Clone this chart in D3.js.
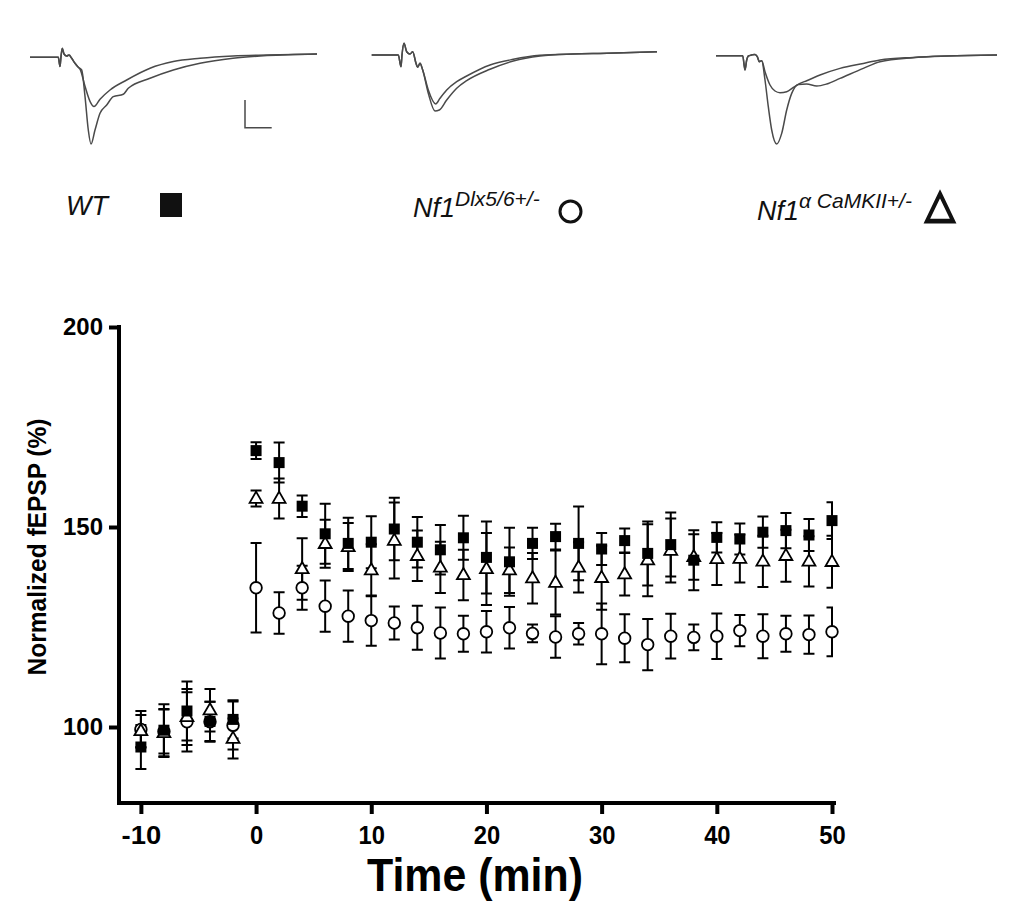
<!DOCTYPE html>
<html>
<head>
<meta charset="utf-8">
<script src="https://cdn.jsdelivr.net/npm/d3@7"></script>
<style>
  html, body { margin: 0; padding: 0; background: #fff; }
  svg { display: block; }
  text { font-family: "Liberation Sans", Arial, Helvetica, sans-serif; }
</style>
</head>
<body>
<svg id="chart" width="1014" height="915"></svg>
<script>
// ---------------- DATA ----------------
const times = [-10, -8, -6, -4, -2, 0, 2, 4, 6, 8, 10, 12, 14, 16, 18, 20, 22, 24, 26, 28, 30, 32, 34, 36, 38, 40, 42, 44, 46, 48, 50];

const wtMean = [95.0, 99.2, 104.0, 101.4, 101.9, 169.1, 166.1, 155.2, 148.3, 145.9, 146.2, 149.5, 146.2, 144.3, 147.3, 142.4, 141.3, 145.9, 147.6, 145.9, 144.5, 146.6, 143.4, 145.6, 141.7, 147.4, 147.0, 148.7, 149.1, 148.0, 151.6];
const wtSem  = [5.5, 6.5, 7.4, 4.9, 4.8, 2.1, 5.0, 2.7, 7.5, 6.4, 6.5, 7.8, 6.3, 6.2, 5.5, 9.0, 8.5, 3.9, 3.2, 9.2, 4.0, 3.0, 8.0, 8.0, 7.5, 3.8, 3.9, 3.9, 4.4, 4.0, 4.6];

const dlxMean = [99.4, 98.9, 101.3, 101.3, 100.4, 134.8, 128.5, 134.8, 130.2, 127.7, 126.6, 126.0, 124.8, 123.5, 123.3, 123.8, 124.8, 123.4, 122.5, 123.3, 123.3, 122.2, 120.6, 122.7, 122.4, 122.7, 124.1, 122.7, 123.3, 123.1, 123.8];
const dlxSem  = [4.6, 5.5, 7.4, 5.0, 6.0, 11.2, 5.2, 5.5, 6.4, 6.4, 6.3, 4.1, 5.5, 6.4, 4.5, 5.2, 5.2, 2.2, 5.2, 2.7, 7.6, 6.0, 6.4, 5.6, 3.2, 5.7, 3.9, 5.5, 4.5, 4.8, 6.1];

const camMean = [99.0, 98.5, 102.5, 104.2, 97.1, 157.1, 157.1, 139.5, 145.8, 145.0, 139.2, 146.6, 142.8, 139.9, 138.0, 139.5, 139.2, 137.2, 136.1, 139.9, 137.3, 138.2, 141.7, 144.1, 142.5, 142.0, 142.1, 141.4, 142.8, 141.4, 141.3];
const camSem  = [4.0, 6.0, 7.0, 5.3, 5.0, 2.0, 5.0, 7.7, 6.0, 6.0, 6.5, 9.5, 6.3, 6.4, 6.3, 9.0, 5.7, 6.3, 8.0, 6.3, 8.0, 5.3, 9.0, 8.0, 5.7, 6.5, 6.0, 6.4, 6.5, 6.3, 6.5];

const xTicks = [-10, 0, 10, 20, 30, 40, 50];
const yTicks = [100, 150, 200];
const xLabel = "Time (min)";
const yLabel = "Normalized fEPSP (%)";

// example traces: [sweep time (a.u.), downward deflection (a.u.)]
const wtTraceA = [[30,0],[58.3,0],[60,9.3],[61,-0.7],[62.3,-9],[64,-3.3],[66.7,-1.3],[69,-2.3],[71.7,1],[75,6],[78.3,10],[80,11.7],[85,29],[90,44],[94,49.3],[100,42],[110,32.7],[126.7,22.7],[150,11],[173.3,4.3],[200,1],[233,-1.3],[267,-2.3],[317,-3.3]];
const wtTraceB = [[30,0],[58.3,0],[60,9.3],[61,-0.7],[62.3,-9],[64,-3.3],[66.7,-1.3],[69,-2.3],[71.7,1],[75,6],[78.3,10],[81.7,12.7],[85,39],[88.3,72.7],[91,86.7],[95,72.7],[100,56],[106.7,47.7],[113.3,39.3],[123.3,37],[128.3,31],[150,21],[173.3,12.7],[200,6],[233,1],[267,-1.7],[317,-3.3]];
const dlxTraceA = [[31.7,0],[58.3,0],[61,11.7],[62,0],[64,-11.7],[66.7,-3.3],[70,-1],[72.7,-3.3],[76,8.3],[77.7,12.3],[80,8.3],[82.7,15],[88.3,35],[95.7,49],[100,43.3],[106.7,35],[116.7,26.7],[126.7,21],[150,10],[173.3,4.3],[200,0.3],[233,-1],[267,-1.7],[317,-3.3]];
const dlxTraceB = [[31.7,0],[58.3,0],[61,11.7],[62,0],[64,-11.7],[66.7,-3.3],[70,-1],[72.7,-3.3],[76,8.3],[77.7,12.3],[80,8.3],[82.7,15],[88.3,38.3],[95,56],[99.3,55],[106.7,45],[116.7,33.3],[126.7,25.7],[150,14.3],[173.3,6],[200,1],[233,-1],[267,-1.7],[317,-3.3]];
const camTraceA = [[36,0],[62.7,0],[65,14.3],[66.7,4.3],[68.3,0.3],[71.7,-0.7],[75,-1.3],[77.3,1],[79.3,6],[81.7,5],[85,16],[90,29.3],[95,35.3],[100,37],[106.7,36],[113.3,31.7],[120,27.7],[126.7,25],[140,19.3],[160,12.7],[183.3,7.7],[200,4.3],[233,1.7],[267,0.3],[317,-0.7]];
const camTraceB = [[36,0],[62.7,0],[65,14.3],[66.7,4.3],[68.3,0.3],[71.7,-0.7],[75,-1.3],[77.3,1],[79.3,6],[81.7,5],[85,24.3],[88.3,51],[91.7,74.3],[96.7,88.3],[101.7,77.7],[106.7,54.3],[111.7,37.7],[118.3,28.7],[126.7,28.3],[136.7,30.3],[146.7,28.3],[160,22.7],[183.3,12.7],[200,6],[233,2],[267,0.3],[317,-0.7]];
const scaleBar = {t: 245, v0: 42.7, v1: 70.4, t1: 271.7};

// ---------------- DRAW ----------------
const svg = d3.select("#chart");

// Traces
const panels = [
  {left: 0, base: 57.3, traces: [wtTraceA, wtTraceB], bar: true},
  {left: 340, base: 55, traces: [dlxTraceA, dlxTraceB], bar: false},
  {left: 680, base: 55.7, traces: [camTraceA, camTraceB], bar: false}
];
panels.forEach(p => {
  const tx = d3.scaleLinear().domain([0, 340]).range([p.left, p.left + 340]);
  const ty = d3.scaleLinear().domain([0, 100]).range([p.base, p.base + 100]);
  const line = d3.line().x(d => tx(d[0])).y(d => ty(d[1])).curve(d3.curveMonotoneX);
  p.traces.forEach(tr => {
    svg.append("path").attr("d", line(tr))
      .attr("fill", "none").attr("stroke", "#4a4a4a").attr("stroke-width", 1.5)
      .attr("stroke-linejoin", "round");
  });
  if (p.bar) {
    svg.append("path")
      .attr("d", `M${tx(scaleBar.t)},${ty(scaleBar.v0)}V${ty(scaleBar.v1)}H${tx(scaleBar.t1)}`)
      .attr("fill", "none").attr("stroke", "#4a4a4a").attr("stroke-width", 1.5);
  }
});

// Legend
const lg = svg.append("g");
const legendFont = 27, supFont = 21;
lg.append("text").attr("x", 66).attr("y", 215).attr("font-size", legendFont)
  .attr("font-style", "italic").attr("fill", "#111").text("WT");
lg.append("rect").attr("x", 160).attr("y", 193).attr("width", 22).attr("height", 24).attr("fill", "#111");

const t2 = lg.append("text").attr("x", 413).attr("y", 217).attr("font-size", legendFont)
  .attr("font-style", "italic").attr("fill", "#111");
t2.append("tspan").text("Nf1");
t2.append("tspan").attr("dy", -11).attr("font-size", supFont).text("Dlx5/6+/-");
lg.append("circle").attr("cx", 570.5).attr("cy", 211.5).attr("r", 10.5)
  .attr("fill", "#fff").attr("stroke", "#111").attr("stroke-width", 3);

const t3 = lg.append("text").attr("x", 757).attr("y", 220).attr("font-size", legendFont)
  .attr("font-style", "italic").attr("fill", "#111");
t3.append("tspan").text("Nf1");
t3.append("tspan").attr("dy", -12).attr("font-size", supFont).text("\u03B1 CaMKII+/-");
lg.append("path").attr("d", d3.symbol().type(d3.symbolTriangle).size(300)())
  .attr("transform", "translate(940,212) scale(1,1.2)")
  .attr("fill", "#fff").attr("stroke", "#111").attr("stroke-width", 3.8).attr("stroke-linejoin", "miter");

// Plot scales
const x = d3.scaleLinear().domain([-11.9, 50]).range([119, 832]);
const y = d3.scaleLinear().domain([81, 200]).range([803, 327]);

// Axes
const axisW = 4;
const axG = svg.append("g").attr("stroke", "#000").attr("stroke-width", axisW).attr("fill", "none");
axG.append("path").attr("d", `M${x.range()[0]},${y(200)}V${y.range()[0]}H${x(50) + 2}`).attr("stroke-linecap", "square");

const xAxis = d3.axisBottom(x).tickValues(xTicks).tickFormat(d => String(d)).tickSize(11).tickSizeOuter(0).tickPadding(12);
const gx = svg.append("g").attr("transform", `translate(0,${y.range()[0]})`).call(xAxis);
gx.select(".domain").remove();
gx.selectAll(".tick line").attr("stroke", "#000").attr("stroke-width", 4);
gx.selectAll(".tick text").attr("font-size", 26).attr("font-weight", "bold").attr("fill", "#000")
  .attr("font-family", '"Liberation Sans", Arial, sans-serif')
  .attr("transform", "scale(0.92,1)")
  .attr("x", function() { return 0; });
// compensate horizontal squeeze so labels stay centred on ticks
gx.selectAll(".tick text").attr("transform", null)
  .attr("textLength", function(d) { return String(d).length * 13.2; })
  .attr("lengthAdjust", "spacingAndGlyphs");

const yAxis = d3.axisLeft(y).tickValues(yTicks).tickFormat(d => String(d)).tickSize(10).tickSizeOuter(0).tickPadding(6);
const gy = svg.append("g").attr("transform", `translate(${x.range()[0]},0)`).call(yAxis);
gy.select(".domain").remove();
gy.selectAll(".tick line").attr("stroke", "#000").attr("stroke-width", 4);
gy.selectAll(".tick text").attr("font-size", 24).attr("font-weight", "bold").attr("fill", "#000")
  .attr("font-family", '"Liberation Sans", Arial, sans-serif')
  .attr("textLength", 40).attr("lengthAdjust", "spacingAndGlyphs");

svg.append("text").attr("x", 475).attr("y", 891).attr("text-anchor", "middle")
  .attr("font-size", 47).attr("font-weight", "bold").attr("fill", "#000")
  .attr("textLength", 216).attr("lengthAdjust", "spacingAndGlyphs").text(xLabel);
svg.append("text").attr("transform", "translate(46,547) rotate(-90)").attr("text-anchor", "middle")
  .attr("font-size", 25).attr("font-weight", "bold").attr("fill", "#000")
  .attr("textLength", 257).attr("lengthAdjust", "spacingAndGlyphs").text(yLabel);

// Data
svg.append("clipPath").attr("id", "clipR").append("rect")
  .attr("x", 0).attr("y", 0).attr("width", x(50) + 1).attr("height", 915);

const series = [
  {mean: dlxMean, sem: dlxSem, shape: "circle"},
  {mean: camMean, sem: camSem, shape: "triangle"},
  {mean: wtMean, sem: wtSem, shape: "square"}
];
const capW = 11;
series.forEach(s => {
  const pts = times.map((t, i) => ({t, m: s.mean[i], e: s.sem[i]}));
  const eg = svg.append("g").attr("clip-path", "url(#clipR)").attr("stroke", "#000").attr("stroke-width", 2).attr("fill", "none");
  pts.forEach(d => {
    const cx = x(d.t), yt = y(d.m + d.e), yb = y(d.m - d.e);
    eg.append("path").attr("d", `M${cx},${yt}V${yb}M${cx - capW / 2},${yt}H${cx + capW / 2}M${cx - capW / 2},${yb}H${cx + capW / 2}`);
  });
});
series.forEach(s => {
  const pts = times.map((t, i) => ({t, m: s.mean[i]}));
  const mg = svg.append("g");
  pts.forEach(d => {
    const cx = x(d.t), cy = y(d.m);
    if (s.shape === "square") {
      mg.append("rect").attr("x", cx - 5.5).attr("y", cy - 5.5).attr("width", 11).attr("height", 11).attr("fill", "#000");
    } else if (s.shape === "circle") {
      mg.append("circle").attr("cx", cx).attr("cy", cy).attr("r", 5.8)
        .attr("fill", "#fff").attr("stroke", "#000").attr("stroke-width", 1.8);
    } else {
      mg.append("path").attr("d", d3.symbol().type(d3.symbolTriangle).size(72)())
        .attr("transform", `translate(${cx},${cy + 0.5})`)
        .attr("fill", "#fff").attr("stroke", "#000").attr("stroke-width", 1.8);
    }
  });
});
</script>
</body>
</html>
